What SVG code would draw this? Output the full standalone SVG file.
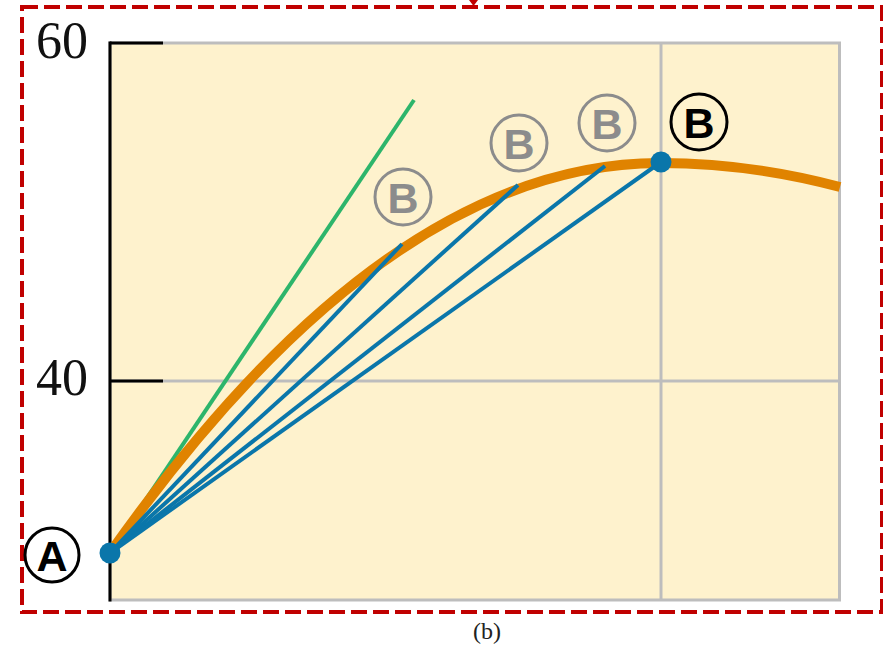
<svg xmlns="http://www.w3.org/2000/svg" width="883" height="647" viewBox="0 0 883 647">
<style>
.num{font-family:"Liberation Serif","DejaVu Serif",serif;font-size:52px;fill:#111}
.cap{font-family:"Liberation Serif","DejaVu Serif",serif;font-size:24px;fill:#222}
.lbl{font-family:"Liberation Sans","DejaVu Sans",sans-serif;font-weight:bold;font-size:43px;text-anchor:middle}
.ring{fill:none;stroke-width:3}
.chord{stroke:#0a76aa;stroke-width:4;fill:none;stroke-linecap:butt}
.grid{stroke:#bdbdbd;stroke-width:3;fill:none}
.tick{stroke:#000;stroke-width:3;fill:none}
</style>
<rect x="0" y="0" width="883" height="647" fill="#fff"/>
<g id="frame">
<rect x="22" y="7" width="860" height="605" fill="none" stroke="#c00000" stroke-width="4" stroke-dasharray="16,6"/>
<polygon points="469,0 478,0 473.5,6" fill="#c00000"/>
</g>
<g id="plot">
<rect x="110" y="43" width="729.5" height="557" fill="#fef2cd" stroke="#bdbdbd" stroke-width="3"/>
<line class="grid" x1="110" y1="381" x2="839.5" y2="381"/>
<line class="grid" x1="661" y1="43" x2="661" y2="600"/>
<line class="tick" x1="110" y1="41.5" x2="110" y2="601.5"/>
<line class="tick" x1="110" y1="43" x2="163" y2="43"/>
<line class="tick" x1="110" y1="381" x2="163" y2="381"/>
<text class="num" x="36" y="58">60</text>
<text class="num" x="36" y="395">40</text>
</g>
<g id="connectors">
<line x1="110" y1="553" x2="414" y2="100" stroke="#2db56b" stroke-width="4"/>
<path d="M110,553 Q385,163 660,163 Q750,163 840,187" fill="none" stroke="#e08300" stroke-width="10"/>
<line class="chord" x1="110" y1="553" x2="402" y2="244"/>
<line class="chord" x1="110" y1="553" x2="518" y2="185"/>
<line class="chord" x1="110" y1="553" x2="605" y2="166"/>
<line class="chord" x1="110" y1="553" x2="661" y2="162"/>
</g>
<g id="pointA">
<circle cx="110" cy="553" r="10.5" fill="#0a76aa"/>
<circle class="ring" cx="52" cy="555" r="27" stroke="#000"/>
<text class="lbl" x="52" y="571" fill="#000">A</text>
</g>
<g id="pointB">
<circle cx="661" cy="162" r="10.5" fill="#0a76aa"/>
<circle class="ring" cx="699" cy="122" r="28" stroke="#000"/>
<text class="lbl" x="699" y="138" fill="#000">B</text>
</g>
<g id="B1">
<circle class="ring" cx="403" cy="197" r="28" stroke="#8c8c8c"/>
<text class="lbl" x="403" y="213" fill="#8c8c8c">B</text>
</g>
<g id="B2">
<circle class="ring" cx="519" cy="143" r="28" stroke="#8c8c8c"/>
<text class="lbl" x="519" y="159" fill="#8c8c8c">B</text>
</g>
<g id="B3">
<circle class="ring" cx="607" cy="123" r="28" stroke="#8c8c8c"/>
<text class="lbl" x="607" y="139" fill="#8c8c8c">B</text>
</g>
<text class="cap" x="487" y="639" text-anchor="middle">(b)</text>
</svg>
